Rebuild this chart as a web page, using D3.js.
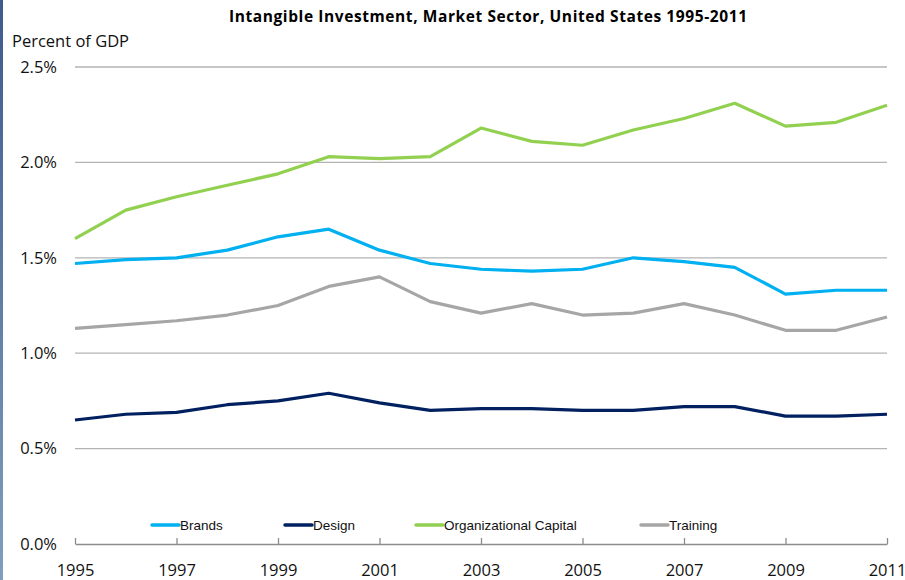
<!DOCTYPE html>
<html>
<head>
<meta charset="utf-8">
<script src="https://cdn.jsdelivr.net/npm/d3@7"></script>
<style>
  body { margin: 0; background: #fff; }
  svg { display: block; }
</style>
</head>
<body>
<div class="container"></div>
<script>
// chart data
var years = [1995, 1996, 1997, 1998, 1999, 2000, 2001, 2002, 2003,
             2004, 2005, 2006, 2007, 2008, 2009, 2010, 2011];
var yearTicks = [1995, 1997, 1999, 2001, 2003, 2005, 2007, 2009, 2011];
var valueTicks = [0, 0.5, 1.0, 1.5, 2.0, 2.5];

var brands = [1.47, 1.49, 1.50, 1.54, 1.61, 1.65, 1.54, 1.47, 1.44,
              1.43, 1.44, 1.50, 1.48, 1.45, 1.31, 1.33, 1.33];
var design = [0.65, 0.68, 0.69, 0.73, 0.75, 0.79, 0.74, 0.70, 0.71,
              0.71, 0.70, 0.70, 0.72, 0.72, 0.67, 0.67, 0.68];
var orgCapital = [1.60, 1.75, 1.82, 1.88, 1.94, 2.03, 2.02, 2.03, 2.18,
                  2.11, 2.09, 2.17, 2.23, 2.31, 2.19, 2.21, 2.30];
var training = [1.13, 1.15, 1.17, 1.20, 1.25, 1.35, 1.40, 1.27, 1.21,
                1.26, 1.20, 1.21, 1.26, 1.20, 1.12, 1.12, 1.19];

var seriesNames = ["Brands", "Design", "Organizational Capital", "Training"];
var seriesColors = ["#00b0f0", "#002060", "#92d050", "#a6a6a6"];

var series = [brands, design, orgCapital, training].map(function(vals, i) {
  return { name: seriesNames[i], color: seriesColors[i], values: vals };
});

var width = 905;
var height = 580;

var svg = d3.select(".container").append("svg")
    .attr("width", width)
    .attr("height", height);

// left edge strip
var grad = svg.append("defs").append("linearGradient")
    .attr("id", "edge").attr("x1", 0).attr("y1", 0).attr("x2", 0).attr("y2", 1);
grad.append("stop").attr("offset", "0%").attr("stop-color", "#3d5b8c");
grad.append("stop").attr("offset", "100%").attr("stop-color", "#7f9fbd");
svg.append("rect")
    .attr("x", 0).attr("y", 0).attr("width", 3).attr("height", height)
    .attr("fill", "url(#edge)");

var x = d3.scaleLinear().domain([1995, 2011]).range([75, 887]);
var y = d3.scaleLinear().domain([0, 2.5]).range([544, 67]);

var font = "'Open Sans', sans-serif";
var narrow = "'Liberation Sans Narrow', 'Liberation Sans', sans-serif";

// title
svg.append("text")
    .attr("x", 488).attr("y", 22)
    .attr("text-anchor", "middle")
    .attr("font-family", font)
    .attr("font-weight", "bold")
    .attr("font-size", 15.5)
    .attr("textLength", 518)
    .text("Intangible Investment, Market Sector, United States 1995-2011");

svg.append("text")
    .attr("x", 12).attr("y", 47)
    .attr("font-family", font)
    .attr("font-size", 16.5)
    .attr("fill", "#111")
    .text("Percent of GDP");

// gridlines
svg.selectAll("line.grid").data(valueTicks.filter(function(d) { return d > 0; }))
  .enter().append("line")
    .attr("class", "grid")
    .attr("x1", 75).attr("x2", 887)
    .attr("y1", function(d) { return y(d); })
    .attr("y2", function(d) { return y(d); })
    .attr("stroke", "#b3b3b3")
    .attr("stroke-width", 1.3);

// y axis labels
var yAxis = d3.axisLeft(y)
    .tickValues(valueTicks)
    .tickFormat(function(d) { return d.toFixed(1) + "%"; })
    .tickSize(0)
    .tickPadding(18);
var gy = svg.append("g").attr("transform", "translate(75,0)").call(yAxis);
gy.select(".domain").remove();
gy.selectAll("text")
    .attr("font-family", font)
    .attr("font-size", 16.5)
    .attr("fill", "#111");

// x axis
var xAxis = d3.axisBottom(x)
    .tickValues(yearTicks)
    .tickFormat(d3.format("d"))
    .tickSizeInner(-6)
    .tickSizeOuter(0)
    .tickPadding(20);
var gx = svg.append("g").attr("transform", "translate(0,544)").call(xAxis);
gx.select(".domain").attr("stroke", "#8c8c8c").attr("stroke-width", 1.3);
gx.selectAll(".tick line").attr("stroke", "#8c8c8c").attr("stroke-width", 1.3);
gx.selectAll("text")
    .attr("font-family", font)
    .attr("font-size", 16.5)
    .attr("fill", "#111");

// lines
var line = d3.line()
    .x(function(d, i) { return x(years[i]); })
    .y(function(d) { return y(d); });

svg.selectAll("path.series").data(series)
  .enter().append("path")
    .attr("class", "series")
    .attr("d", function(d) { return line(d.values); })
    .attr("fill", "none")
    .attr("stroke", function(d) { return d.color; })
    .attr("stroke-width", 3.2)
    .attr("stroke-linejoin", "round");

// legend
var legendX = [152, 285, 416, 641];
var legend = svg.selectAll("g.legend").data(series)
  .enter().append("g")
    .attr("class", "legend")
    .attr("transform", function(d, i) { return "translate(" + legendX[i] + ",525)"; });
legend.append("line")
    .attr("x1", 0).attr("x2", 27)
    .attr("stroke", function(d) { return d.color; })
    .attr("stroke-width", 3.5)
    .attr("stroke-linecap", "round");
legend.append("text")
    .attr("x", 28).attr("y", 4.5)
    .attr("font-family", narrow)
    .attr("font-size", 13.5)
    .attr("fill", "#111")
    .text(function(d) { return d.name; });
</script>
</body>
</html>
